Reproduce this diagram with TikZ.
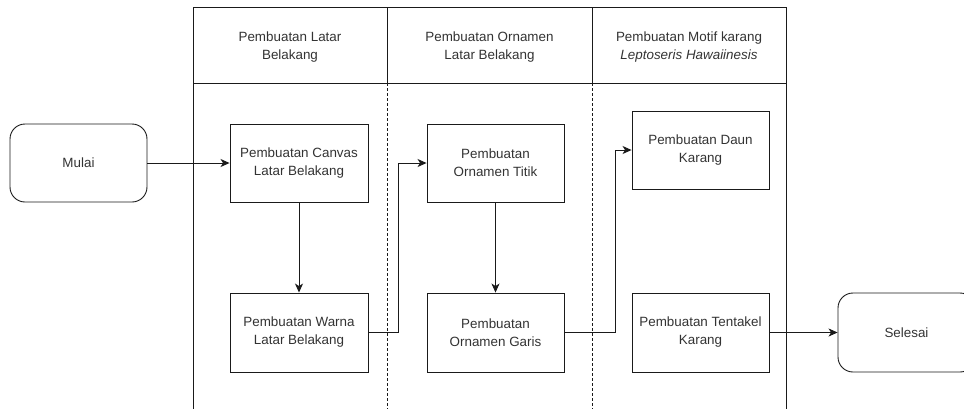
\documentclass[tikz,border=0pt]{standalone}
\usepackage{fontspec}
\setmainfont{Liberation Sans}
\usetikzlibrary{arrows.meta}
\definecolor{txt}{HTML}{333333}
\definecolor{ln}{HTML}{1A1A1A}
\tikzset{
  stepbox/.style={draw=ln, line width=0.9pt, minimum width=137pt, minimum height=78pt, align=center, text=txt, font=\fontsize{13.4}{18}\selectfont, inner sep=0pt},
  termbox/.style={stepbox, rounded corners=15pt},
  hdr/.style={align=center, text=txt, font=\fontsize{13.4}{18}\selectfont, inner sep=0pt},
  conn/.style={draw=ln, line width=0.9pt, -{Stealth[length=9pt,width=8pt,inset=2.5pt]}},
  frame/.style={draw=ln, line width=0.9pt},
  divider/.style={draw=ln, line width=0.8pt, dash pattern=on 3pt off 2pt}
}
\begin{document}
\begin{tikzpicture}[x=1pt,y=-1pt]
\useasboundingbox (0,0) rectangle (964,408);
\clip (0,0) rectangle (964,408);
% frame
\draw[frame] (193,412) -- (193,7) -- (786,7) -- (786,412);
\draw[frame] (193,83) -- (786,83);
\draw[frame] (387,7) -- (387,83);
\draw[frame] (592,7) -- (592,83);
\draw[divider] (387,83) -- (387,412);
\draw[divider] (592,83) -- (592,412);
% headers
\node[hdr] (h1) at (290,47) {Pembuatan Latar\\Belakang};
\node[hdr] (h2) at (489.5,47) {Pembuatan Ornamen\\Latar Belakang};
\node[hdr] (h3) at (689,47) {Pembuatan Motif karang\\\textit{Leptoseris Hawaiinesis}};
% nodes
\node[termbox] (mulai) at (78.5,163) {Mulai};
\node[stepbox, minimum width=138pt] (canvas) at (299,163) {Pembuatan Canvas\\Latar Belakang};
\node[stepbox, minimum width=138pt, minimum height=79pt] (warna) at (299,332.5) {Pembuatan Warna\\Latar Belakang};
\node[stepbox] (titik) at (495.5,163) {Pembuatan\\Ornamen Titik};
\node[stepbox, minimum height=79pt] (garis) at (495.5,332.5) {Pembuatan\\Ornamen Garis};
\node[stepbox] (daun) at (700.5,150) {Pembuatan Daun\\Karang};
\node[stepbox, minimum height=79pt] (tentakel) at (700.5,332.5) {Pembuatan Tentakel\\Karang};
\node[termbox, minimum height=79pt] (selesai) at (906.5,332.5) {Selesai};
% connectors
\draw[conn] (mulai.east) -- (canvas.west);
\draw[conn] (canvas.south) -- (warna.north);
\draw[conn] (warna.east) -- (398,332.5) |- (titik.west);
\draw[conn] (titik.south) -- (garis.north);
\draw[conn] (garis.east) -- (615,332.5) |- (daun.west);
\draw[conn] (tentakel.east) -- (selesai.west);
\end{tikzpicture}
\end{document}
